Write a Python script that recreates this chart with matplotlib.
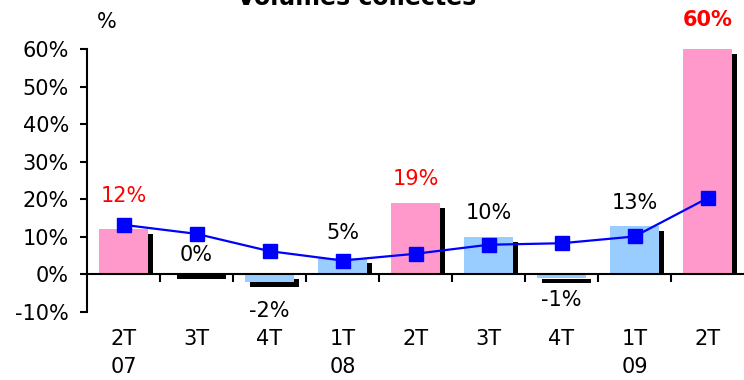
import numpy as np
import matplotlib.pyplot as plt

# Data
quarters = ['2T\n07', '3T', '4T', '1T\n08', '2T', '3T', '4T', '1T\n09', '2T']
bar_values = [12, 0, -2, 4.5, 19, 10, -1, 12.8, 60]
bar_labels = ['12%', '0%', '-2%', '5%', '19%', '10%', '-1%', '13%', '60%']
highlight = [True, False, False, False, True, False, False, False, True]
line_values = [13.2, 10.8, 6.2, 3.7, 5.5, 7.9, 8.3, 10.1, 20.3]
label_offset = [24, 14, -21, 18, 17, 17, -16, 17, 21]  # points

pink = '#FF99CC'
light_blue = '#99CCFF'
FS = 15

fig = plt.figure(figsize=(7.44, 3.8), dpi=100)
ax = fig.add_axes([87 / 744, 1 - 312 / 380, 1 - 87 / 744, 263 / 380])

x = np.arange(len(quarters))
v = np.array(bar_values, dtype=float)
width = 0.67
dx = 5 / 73          # shadow offset, category units
d = 5 / 3.757        # shadow offset, percent units

# shadow bars
sh_top = np.where(v > 0, v - d, np.where(v < 0, -d, 0))
sh_bot = np.where(v > 0, 0, v - d)
ax.bar(x + dx, sh_top - sh_bot, bottom=sh_bot, width=width, color='black', zorder=1)

colors = [pink if h else light_blue for h in highlight]
ax.bar(x, v, width=width, color=colors, zorder=2)

ax.plot(x, line_values, color='#0000FF', lw=1.6, marker='s', ms=9.5,
        zorder=4)

for i in range(len(x)):
    base = max(v[i], 0) if label_offset[i] > 0 else min(v[i], 0)
    ax.annotate(bar_labels[i], (x[i], base), xytext=(0, label_offset[i]),
                textcoords='offset points', ha='center', va='center',
                fontsize=FS, color='red' if highlight[i] else 'black',
                fontweight='bold' if i == len(x) - 1 else 'normal',
                annotation_clip=False, zorder=5)

ax.set_xlim(-0.5, len(x) - 0.5)
ax.set_ylim(-10, 60)
ax.set_yticks(range(-10, 61, 10))
ax.set_yticklabels([f'{t}%' for t in range(-10, 61, 10)], fontsize=FS)

for s in ['top', 'right']:
    ax.spines[s].set_visible(False)
ax.spines['left'].set_linewidth(1.5)
ax.spines['bottom'].set_position(('data', 0))
ax.spines['bottom'].set_linewidth(1.5)
ax.spines['bottom'].set_zorder(3)
ax.set_xticks(x[:-1] + 0.5)
ax.set_xticklabels([])
ax.tick_params(axis='x', direction='out', length=5.5, width=1.5)
ax.tick_params(axis='y', direction='out', length=5, width=1.5, pad=8)

for i, q in enumerate(quarters):
    ax.text(x[i], -0.065, q, transform=ax.get_xaxis_transform(), ha='center',
            va='top', fontsize=FS, linespacing=1.5)

fig.text(107 / 744, 1 - 22 / 380, '%', ha='center', va='center', fontsize=FS)
fig.text(357 / 744, 1 - 5 / 380, 'Volumes collectés', ha='center', va='baseline',
         fontsize=17, fontweight='bold')

fig.savefig('out.png', dpi=100)
